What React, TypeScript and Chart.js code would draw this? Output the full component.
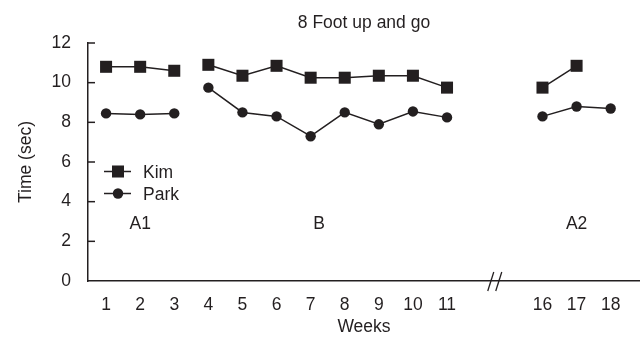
import { useEffect, useRef } from 'react';
import { Chart, registerables } from 'chart.js';

Chart.register(...registerables);

// Measurement weeks and 8-foot up-and-go times (seconds)
const weeks = [1, 2, 3, 4, 5, 6, 7, 8, 9, 10, 11, 16, 17, 18];
const kimTimes: (number | null)[] = [10.8, 10.8, 10.6, 10.9, 10.35, 10.85, 10.25, 10.25, 10.35, 10.35, 9.75, 9.75, 10.85, null];
const parkTimes: (number | null)[] = [8.45, 8.4, 8.45, 9.75, 8.5, 8.3, 7.3, 8.5, 7.9, 8.55, 8.25, 8.3, 8.8, 8.7];

// Study phases: first week of each phase, label and where the label sits
const phaseStartWeeks = [1, 4, 16];
const phaseLabels = ['A1', 'B', 'A2'];
const phaseLabelWeeks = [2, 7.25, 17];
const phaseLabelTime = 3;

const yTicks = [0, 2, 4, 6, 8, 10, 12];

const INK = '#231f20';
const FONT = '"Liberation Sans", Arial, sans-serif';
const FONT_SIZE = 17.5;

// Weeks 12-15 are skipped on the axis: the break takes less room than the weeks it hides
const lastWeekBeforeBreak = 11;
const firstWeekAfterBreak = 16;
const breakRoom = 2.8;
const axisPos = (w: number) =>
  w > lastWeekBeforeBreak ? w - (firstWeekAfterBreak - lastWeekBeforeBreak) + breakRoom : w;
const breakPos = (lastWeekBeforeBreak + axisPos(firstWeekAfterBreak)) / 2;
const X_MIN = 0.47;
const X_MAX = 16.66;

// Points for one series; a null point before each new phase keeps phases unconnected,
// and empty points at both axis ends keep Chart.js from reserving marker overflow room
function seriesPoints(values: (number | null)[]) {
  const pts: { x: number; y: number | null }[] = [{ x: X_MIN, y: null }];
  weeks.forEach((w, i) => {
    if (i > 0 && phaseStartWeeks.includes(w)) pts.push({ x: axisPos(w) - 0.5, y: null });
    pts.push({ x: axisPos(w), y: values[i] });
  });
  pts.push({ x: X_MAX, y: null });
  return pts;
}

const markerSize = (r: number) => (c: any) => (c.raw && c.raw.y != null ? r : 0);

const decorations = {
  id: 'decorations',
  afterDraw(chart: any) {
    const { ctx, chartArea, scales } = chart;
    const x = scales.x;
    const y = scales.y;
    ctx.save();
    ctx.fillStyle = INK;
    ctx.strokeStyle = INK;

    // title
    ctx.font = `${FONT_SIZE}px ${FONT}`;
    ctx.textAlign = 'center';
    ctx.textBaseline = 'alphabetic';
    ctx.fillText('8 Foot up and go', (chartArea.left + chartArea.right) / 2, 28);

    // inward y tick marks
    ctx.lineWidth = 1.5;
    yTicks.forEach((t) => {
      if (t === 0) return;
      const py = y.getPixelForValue(t);
      ctx.beginPath();
      ctx.moveTo(chartArea.left, py);
      ctx.lineTo(chartArea.left + 7, py);
      ctx.stroke();
    });

    // axis break marks
    const bx = x.getPixelForValue(breakPos);
    const by = chartArea.bottom;
    ctx.lineWidth = 1.3;
    [-4, 4].forEach((dx) => {
      ctx.beginPath();
      ctx.moveTo(bx + dx - 3, by + 10);
      ctx.lineTo(bx + dx + 3, by - 9);
      ctx.stroke();
    });

    // phase labels
    ctx.textAlign = 'center';
    phaseLabels.forEach((lab, i) => {
      ctx.fillText(lab, x.getPixelForValue(axisPos(phaseLabelWeeks[i])), y.getPixelForValue(phaseLabelTime) + 7);
    });

    // legend
    const lx = chartArea.left + 16;
    const legendSizes = [8.5, 5.2];
    chart.data.datasets.forEach((ds: any, i: number) => {
      const baseline = 178 + i * 22;
      const cy = baseline - 6.5;
      ctx.lineWidth = 1.5;
      ctx.beginPath();
      ctx.moveTo(lx, cy);
      ctx.lineTo(lx + 27, cy);
      ctx.stroke();
      const mx = lx + 14;
      const r = legendSizes[i];
      ctx.beginPath();
      if (ds.pointStyle === 'rect') {
        const s = Math.SQRT1_2 * r;
        ctx.rect(mx - s, cy - s, 2 * s, 2 * s);
      } else {
        ctx.arc(mx, cy, r, 0, Math.PI * 2);
      }
      ctx.fill();
      ctx.textAlign = 'left';
      ctx.fillText(ds.label, lx + 39, baseline);
    });

    ctx.restore();
  },
};

export default function App() {
  const canvasRef = useRef<HTMLCanvasElement>(null);

  useEffect(() => {
    document.body.style.margin = '0';
    const canvas = canvasRef.current;
    if (!canvas) return;

    const tickLabelByPos = new Map(weeks.map((w) => [axisPos(w), String(w)]));

    const chart = new Chart(canvas, {
      type: 'line',
      data: {
        datasets: [
          {
            label: 'Kim',
            data: seriesPoints(kimTimes),
            borderColor: INK,
            backgroundColor: INK,
            borderWidth: 1.5,
            pointStyle: 'rect',
            pointRadius: markerSize(8.5),
            pointHoverRadius: markerSize(8.5),
            pointBorderWidth: 0,
            spanGaps: false,
          },
          {
            label: 'Park',
            data: seriesPoints(parkTimes),
            borderColor: INK,
            backgroundColor: INK,
            borderWidth: 1.5,
            pointStyle: 'circle',
            pointRadius: markerSize(5.2),
            pointHoverRadius: markerSize(5.2),
            pointBorderWidth: 0,
            spanGaps: false,
          },
        ],
      } as any,
      options: {
        responsive: false,
        animation: false,
        layout: { padding: { top: 43, right: 0, left: 0, bottom: 0 } },
        plugins: {
          legend: { display: false },
          title: { display: false },
          tooltip: { enabled: false },
        },
        scales: {
          x: {
            type: 'linear',
            min: X_MIN,
            max: X_MAX,
            afterBuildTicks: (scale: any) => {
              scale.ticks = weeks.map((w) => ({ value: axisPos(w) }));
            },
            afterFit: (scale: any) => {
              scale.height = 61;
              scale.paddingLeft = 0;
              scale.paddingRight = 0;
            },
            ticks: {
              autoSkip: false,
              maxRotation: 0,
              padding: 14,
              color: INK,
              font: { family: FONT, size: FONT_SIZE },
              callback: (v: any) => tickLabelByPos.get(Number(v)) ?? '',
            },
            grid: { drawOnChartArea: false, drawTicks: false },
            border: { display: true, color: INK, width: 1.5 },
            title: {
              display: true,
              text: 'Weeks',
              color: INK,
              font: { family: FONT, size: FONT_SIZE },
              padding: { top: 0, bottom: 4 },
            },
          },
          y: {
            type: 'linear',
            min: 0,
            max: 12,
            afterBuildTicks: (scale: any) => {
              scale.ticks = yTicks.map((v) => ({ value: v }));
            },
            afterFit: (scale: any) => {
              scale.width = 88;
              scale.paddingTop = 0;
              scale.paddingBottom = 0;
            },
            ticks: {
              padding: 17,
              color: INK,
              font: { family: FONT, size: FONT_SIZE },
            },
            grid: { drawOnChartArea: false, drawTicks: false },
            border: { display: true, color: INK, width: 1.5 },
            title: {
              display: true,
              text: 'Time (sec)',
              color: INK,
              font: { family: FONT, size: FONT_SIZE },
              padding: { top: 16, bottom: 0 },
            },
          },
        },
      },
      plugins: [decorations],
    });

    return () => chart.destroy();
  }, []);

  return <canvas ref={canvasRef} width={640} height={342} style={{ display: 'block' }} />;
}
